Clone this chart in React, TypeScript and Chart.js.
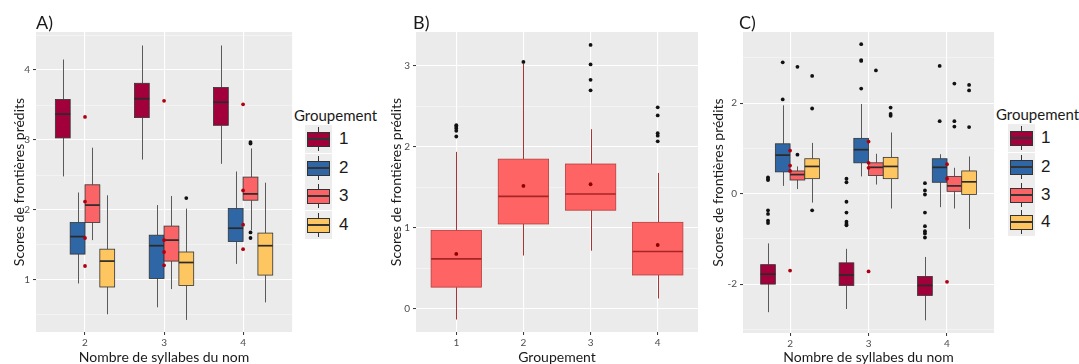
import React, { useEffect, useRef } from 'react';
import { Chart, registerables } from 'chart.js';

Chart.register(...registerables);

const FONT = 'Lato, "Open Sans", sans-serif';
const H = 364;

// ---------------- shared categories ----------------
const syllableCategories = [2, 3, 4];
const syllableLabels = ['2', '3', '4'];
const groupLabels = ['1', '2', '3', '4'];
const groupColors = ['#A2003B', '#2F66A5', '#FA6466', '#FEC660'];
const dodgeOffsets = [-0.28125, -0.09375, 0.09375, 0.28125];
const dodgeWidth = 0.1875;

// ---------------- Panel A ----------------
// [lower whisker, Q1, median, Q3, upper whisker] for syllables 2, 3, 4
const aGroup1 = [[2.48, 3.03, 3.37, 3.58, 4.15], [2.72, 3.32, 3.59, 3.81, 4.35], [2.66, 3.21, 3.54, 3.75, 4.35]];
const aGroup2 = [[0.95, 1.37, 1.62, 1.82, 2.25], [0.61, 1.02, 1.49, 1.64, 2.07], [1.23, 1.55, 1.74, 2.02, 2.55]];
const aGroup3 = [[1.57, 1.82, 2.07, 2.36, 2.89], [0.87, 1.27, 1.57, 1.77, 2.2], [1.71, 2.14, 2.23, 2.47, 2.88]];
const aGroup4 = [[0.51, 0.9, 1.27, 1.44, 2.21], [0.43, 0.92, 1.25, 1.4, 2.02], [0.68, 1.07, 1.49, 1.67, 2.39]];
const aOutliers1 = [[], [], []];
const aOutliers2 = [[], [], []];
const aOutliers3 = [[], [], [2.97, 2.95, 1.68, 1.6]];
const aOutliers4 = [[], [2.17], []];
const aMeans = [[3.33, 2.12, 1.6, 1.2], [3.56, 1.57, 1.4, 1.21], [3.51, 2.28, 1.79, 1.44]];
const aYMajor = [1, 2, 3, 4];
const aYMinor = [0.5, 1.5, 2.5, 3.5, 4.5];

// ---------------- Panel B ----------------
const bGroups = [1, 2, 3, 4];
const bGroupLabels = ['1', '2', '3', '4'];
const bStats = [
  [-0.13, 0.27, 0.62, 0.97, 1.94],
  [0.66, 1.05, 1.39, 1.85, 3.03],
  [0.72, 1.22, 1.42, 1.79, 2.22],
  [0.13, 0.42, 0.71, 1.07, 1.68],
];
const bMeans = [0.68, 1.52, 1.54, 0.79];
const bOutliers = [[2.27, 2.25, 2.23, 2.2, 2.13], [3.05], [3.26, 3.02, 2.83, 2.7], [2.49, 2.39, 2.17, 2.14, 2.07]];
const bYMajor = [0, 1, 2, 3];
const bYMinor = [0.5, 1.5, 2.5];

// ---------------- Panel C ----------------
const cGroup1 = [[-2.62, -2.0, -1.78, -1.57, -1.1], [-2.55, -2.03, -1.8, -1.53, -1.22], [-2.8, -2.25, -2.03, -1.83, -1.4]];
const cGroup2 = [[0.17, 0.48, 0.85, 1.1, 1.95], [0.38, 0.68, 0.97, 1.22, 1.98], [-0.3, 0.25, 0.58, 0.77, 0.87]];
const cGroup3 = [[0.1, 0.3, 0.42, 0.5, 0.6], [0.2, 0.4, 0.58, 0.68, 0.88], [-0.33, 0.05, 0.17, 0.38, 0.57]];
const cGroup4 = [[-0.2, 0.33, 0.6, 0.77, 1.12], [-0.33, 0.33, 0.6, 0.8, 1.35], [-0.78, -0.02, 0.26, 0.5, 0.82]];
const cOutliers1 = [
  [0.36, 0.32, 0.3, -0.37, -0.45, -0.6, -0.65],
  [0.33, 0.25, -0.18, -0.42, -0.62, -0.67, -0.7],
  [0.23, 0.07, -0.02, -0.42, -0.72, -0.83, -0.88, -0.97],
];
const cOutliers2 = [[2.08, 2.9], [2.32, 2.93, 2.95, 3.3], [1.6, 2.82]];
const cOutliers3 = [[0.86, 2.8], [2.72], [1.48, 1.6, 2.43]];
const cOutliers4 = [[-0.37, 1.88, 2.6], [1.72, 1.76, 1.9], [1.47, 2.28, 2.4]];
const cMeans = [[-1.7, 0.95, 0.62, 0.5], [-1.72, 1.15, 0.68, 0.57], [-1.95, 0.65, 0.33]];
const cYMajor = [-2, 0, 2];
const cYMinor = [-3, -1, 1, 3];

// ---------------- helpers ----------------
type Box = { x: number; w: number; stats: number[]; fill: string; stroke: string; median: string; whisker: string };
type Pt = { x: number; y: number };

function groupedBoxes(groups: number[][][]): Box[] {
  const out: Box[] = [];
  groups.forEach((g, gi) => {
    g.forEach((stats, si) => {
      out.push({
        x: syllableCategories[si] + dodgeOffsets[gi],
        w: dodgeWidth,
        stats,
        fill: groupColors[gi],
        stroke: '#333333',
        median: '#2a2a2a',
        whisker: '#5a5a5a',
      });
    });
  });
  return out;
}
function groupedOutliers(groups: number[][][]): Pt[] {
  const out: Pt[] = [];
  groups.forEach((g, gi) => g.forEach((vals, si) => vals.forEach((v) => out.push({ x: syllableCategories[si] + dodgeOffsets[gi], y: v }))));
  return out;
}
function meansAt(means: number[][]): Pt[] {
  const out: Pt[] = [];
  means.forEach((vals, si) => vals.forEach((v) => out.push({ x: syllableCategories[si], y: v })));
  return out;
}

type Spec = {
  left: number;
  width: number;
  area: { l: number; r: number; t: number; b: number };
  xMin: number;
  xMax: number;
  xTicks: number[];
  xLabels: string[];
  yMin: number;
  yMax: number;
  yMajor: number[];
  yMinor: number[];
  xTitle: string;
  yTitle: string;
  yTitleOffset: number;
  boxes: Box[];
  outliers: Pt[];
  means: Pt[];
  meanColor: string;
};

const specA: Spec = {
  left: 0,
  width: 294,
  area: { l: 36, r: 293, t: 32, b: 332 },
  xMin: 1.38,
  xMax: 4.62,
  xTicks: syllableCategories,
  xLabels: syllableLabels,
  yMin: 0.257,
  yMax: 4.543,
  yMajor: aYMajor,
  yMinor: aYMinor,
  xTitle: 'Nombre de syllabes du nom',
  yTitle: 'Scores de frontières prédits',
  yTitleOffset: 19,
  boxes: groupedBoxes([aGroup1, aGroup2, aGroup3, aGroup4]),
  outliers: groupedOutliers([aOutliers1, aOutliers2, aOutliers3, aOutliers4]),
  means: meansAt(aMeans),
  meanColor: '#B00010',
};

const specB: Spec = {
  left: 378,
  width: 322,
  area: { l: 416, r: 698, t: 32, b: 332 },
  xMin: 0.4,
  xMax: 4.6,
  xTicks: bGroups,
  xLabels: bGroupLabels,
  yMin: -0.284,
  yMax: 3.42,
  yMajor: bYMajor,
  yMinor: bYMinor,
  xTitle: 'Groupement',
  yTitle: 'Scores de frontières prédits',
  yTitleOffset: 18,
  boxes: bStats.map((stats, i) => ({
    x: bGroups[i],
    w: 0.75,
    stats,
    fill: '#FF6464',
    stroke: '#B83A3A',
    median: '#A82424',
    whisker: '#A83434',
  })),
  outliers: bOutliers.flatMap((vals, i) => vals.map((v) => ({ x: bGroups[i], y: v }))),
  means: bMeans.map((v, i) => ({ x: bGroups[i], y: v })),
  meanColor: '#8B0000',
};

const specC: Spec = {
  left: 700,
  width: 296,
  area: { l: 743, r: 995, t: 32, b: 333 },
  xMin: 1.4,
  xMax: 4.6,
  xTicks: syllableCategories,
  xLabels: syllableLabels,
  yMin: -3.08,
  yMax: 3.57,
  yMajor: cYMajor,
  yMinor: cYMinor,
  xTitle: 'Nombre de syllabes du nom',
  yTitle: 'Scores de frontières prédits',
  yTitleOffset: 18,
  boxes: groupedBoxes([cGroup1, cGroup2, cGroup3, cGroup4]),
  outliers: groupedOutliers([cOutliers1, cOutliers2, cOutliers3, cOutliers4]),
  means: meansAt(cMeans),
  meanColor: '#B00010',
};

function Panel({ spec }: { spec: Spec }) {
  const ref = useRef<HTMLCanvasElement>(null);
  useEffect(() => {
    const s = spec;
    const bgPlugin = {
      id: 'panelBg',
      beforeDraw(chart: any) {
        const { ctx, chartArea } = chart;
        ctx.save();
        ctx.fillStyle = '#EBEBEB';
        ctx.fillRect(chartArea.left, chartArea.top, chartArea.right - chartArea.left, chartArea.bottom - chartArea.top);
        ctx.restore();
      },
    };
    const boxPlugin = {
      id: 'boxes',
      beforeDatasetsDraw(chart: any) {
        const { ctx, chartArea } = chart;
        const xs = chart.scales.x;
        const ys = chart.scales.y;
        ctx.save();
        ctx.beginPath();
        ctx.rect(chartArea.left, chartArea.top, chartArea.right - chartArea.left, chartArea.bottom - chartArea.top);
        ctx.clip();
        for (const b of s.boxes) {
          const xc = Math.round(xs.getPixelForValue(b.x)) + 0.5;
          const xl = xs.getPixelForValue(b.x - b.w / 2);
          const xr = xs.getPixelForValue(b.x + b.w / 2);
          const [lo, q1, med, q3, hi] = b.stats.map((v) => ys.getPixelForValue(v));
          ctx.strokeStyle = b.whisker;
          ctx.lineWidth = 1;
          ctx.beginPath();
          ctx.moveTo(xc, hi);
          ctx.lineTo(xc, q3);
          ctx.moveTo(xc, q1);
          ctx.lineTo(xc, lo);
          ctx.stroke();
          ctx.fillStyle = b.fill;
          ctx.fillRect(xl, q3, xr - xl, q1 - q3);
          ctx.strokeStyle = b.stroke;
          ctx.lineWidth = 0.8;
          ctx.strokeRect(xl, q3, xr - xl, q1 - q3);
          ctx.strokeStyle = b.median;
          ctx.lineWidth = 1.7;
          ctx.beginPath();
          ctx.moveTo(xl, med);
          ctx.lineTo(xr, med);
          ctx.stroke();
        }
        ctx.restore();
      },
    };
    const yTicks = [...s.yMajor, ...s.yMinor].sort((a, b) => a - b);
    const isMajor = (v: number) => s.yMajor.includes(v);
    const chart = new Chart(ref.current as HTMLCanvasElement, {
      type: 'scatter',
      data: {
        datasets: [
          {
            data: s.outliers,
            pointRadius: 1.9,
            pointBackgroundColor: '#111111',
            pointBorderWidth: 0,
            pointHoverRadius: 0,
          },
          {
            data: s.means,
            pointRadius: 1.9,
            pointBackgroundColor: s.meanColor,
            pointBorderWidth: 0,
            pointHoverRadius: 0,
          },
        ],
      },
      options: {
        responsive: false,
        animation: false,
        events: [],
        layout: { padding: { top: s.area.t, right: s.left + s.width - s.area.r, left: 0, bottom: 0 } },
        plugins: { legend: { display: false }, tooltip: { enabled: false } },
        scales: {
          x: {
            type: 'linear',
            position: 'bottom',
            min: s.xMin,
            max: s.xMax,
            afterBuildTicks: (scale: any) => {
              scale.ticks = s.xTicks.map((v) => ({ value: v }));
            },
            afterFit: (scale: any) => {
              scale.height = H - s.area.b;
            },
            ticks: {
              autoSkip: false,
              maxRotation: 0,
              padding: 2,
              color: '#4D4D4D',
              font: { family: FONT, size: 10 },
              callback: (_v: any, i: number) => s.xLabels[i],
            },
            grid: { color: '#FFFFFF', lineWidth: 1.1, tickLength: 3, tickColor: '#333333', tickWidth: 1 },
            border: { display: false },
            title: {
              display: true,
              text: s.xTitle,
              color: '#1a1a1a',
              font: { family: FONT, size: 14, lineHeight: 1 },
              padding: { top: 0, bottom: 0 },
            },
          },
          y: {
            type: 'linear',
            position: 'left',
            min: s.yMin,
            max: s.yMax,
            afterBuildTicks: (scale: any) => {
              scale.ticks = yTicks.map((v) => ({ value: v }));
            },
            afterFit: (scale: any) => {
              scale.width = s.area.l - s.left;
            },
            ticks: {
              autoSkip: false,
              padding: 3,
              color: '#4D4D4D',
              font: { family: FONT, size: 10 },
              callback: (v: any) => (isMajor(Number(v)) ? String(v) : ''),
            },
            grid: {
              color: (ctx: any) => (ctx.tick && isMajor(ctx.tick.value) ? '#FFFFFF' : 'rgba(255,255,255,0.65)'),
              lineWidth: (ctx: any) => (ctx.tick && isMajor(ctx.tick.value) ? 1.1 : 0.6),
              tickLength: 3,
              tickWidth: 1,
              tickColor: (ctx: any) => (ctx.tick && isMajor(ctx.tick.value) ? '#333333' : 'rgba(0,0,0,0)'),
            },
            border: { display: false },
            title: {
              display: true,
              text: s.yTitle,
              color: '#1a1a1a',
              font: { family: FONT, size: 14, lineHeight: 1 },
              padding: { top: s.yTitleOffset - 7, bottom: 0 },
            },
          },
        },
      } as any,
      plugins: [bgPlugin, boxPlugin],
    });
    return () => chart.destroy();
  }, [spec]);
  return (
    <canvas
      ref={ref}
      width={spec.width}
      height={H}
      style={{ position: 'absolute', left: spec.left, top: 0, width: spec.width, height: H }}
    />
  );
}

function Text({ x, cy, size, children, family }: { x: number; cy: number; size: number; children: any; family?: string }) {
  const h = Math.round(size * 1.3);
  return (
    <div
      style={{
        position: 'absolute',
        left: x,
        top: cy - h / 2,
        height: h,
        lineHeight: `${h}px`,
        fontSize: size,
        fontFamily: family || FONT,
        color: '#1a1a1a',
        whiteSpace: 'nowrap',
      }}
    >
      {children}
    </div>
  );
}

function Legend({ titleX, titleY, keyX, keyYs, labelX }: { titleX: number; titleY: number; keyX: number; keyYs: number[]; labelX: number }) {
  return (
    <>
      <Text x={titleX} cy={titleY} size={15}>
        Groupement
      </Text>
      {groupLabels.map((lab, i) => {
        const cy = keyYs[i];
        return (
          <React.Fragment key={lab}>
            <div style={{ position: 'absolute', left: keyX, top: cy - 14, width: 27, height: 28, background: '#EDEDED' }} />
            <div style={{ position: 'absolute', left: keyX + 13, top: cy - 12, width: 1, height: 24, background: '#333' }} />
            <div
              style={{
                position: 'absolute',
                left: keyX + 2,
                top: cy - 7.5,
                width: 23,
                height: 15,
                background: groupColors[i],
                border: '1px solid #333',
                boxSizing: 'border-box',
              }}
            />
            <div style={{ position: 'absolute', left: keyX + 2, top: cy - 1, width: 23, height: 2, background: '#333' }} />
            <Text x={labelX} cy={cy} size={17} family={'"Liberation Sans", Arial, sans-serif'}>
              {lab}
            </Text>
          </React.Fragment>
        );
      })}
    </>
  );
}

export default function App() {
  return (
    <div style={{ position: 'absolute', left: 0, top: 0, width: 1079, height: H, background: '#FFFFFF', overflow: 'hidden' }}>
      <Panel spec={specA} />
      <Panel spec={specB} />
      <Panel spec={specC} />
      <Text x={36} cy={22} size={18}>
        A)
      </Text>
      <Text x={413} cy={22} size={18}>
        B)
      </Text>
      <Text x={739} cy={22} size={18}>
        C)
      </Text>
      <Legend titleX={294} titleY={115} keyX={305} keyYs={[139, 168, 196, 225]} labelX={339} />
      <Legend titleX={996} titleY={114} keyX={1008} keyYs={[138, 167, 195, 222]} labelX={1041} />
    </div>
  );
}
